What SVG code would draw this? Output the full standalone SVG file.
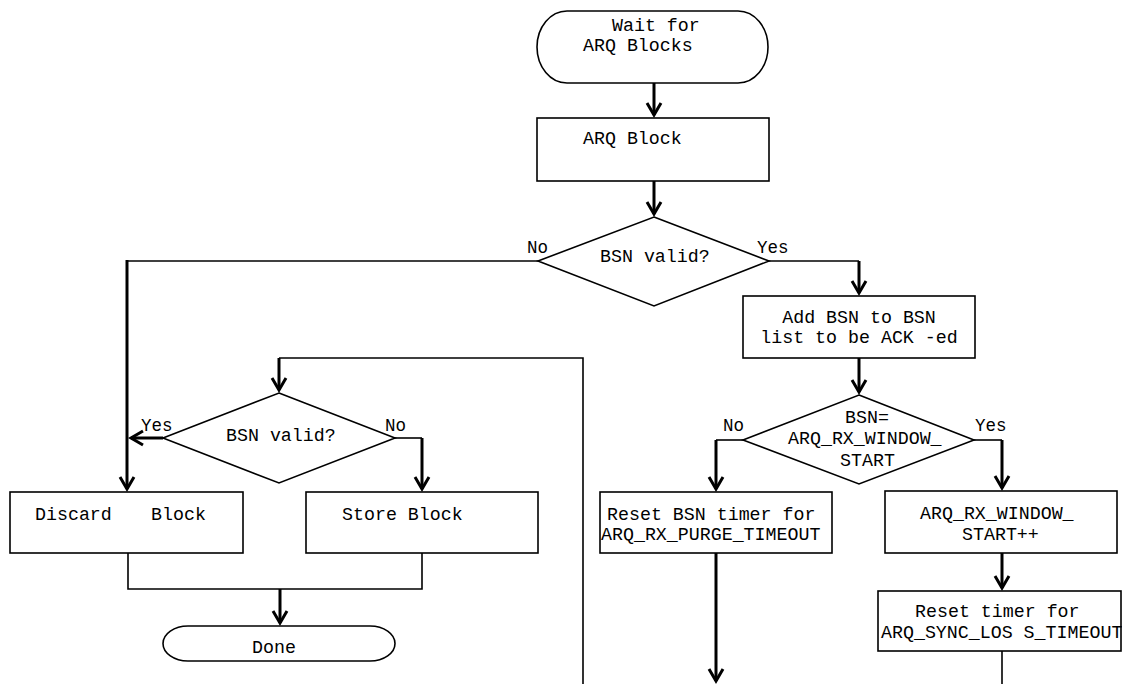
<svg xmlns="http://www.w3.org/2000/svg" width="1122" height="684" viewBox="0 0 1122 684">
  <style>
    .shape { fill: #ffffff; stroke: #000000; stroke-width: 1.6; }
    .thin { fill: none; stroke: #000000; stroke-width: 1.6; }
    .thick { fill: none; stroke: #000000; stroke-width: 3; }
    .arrow { fill: none; stroke: #000000; stroke-width: 3; marker-end: url(#chev); }
    text { font-family: "Liberation Mono", "Courier New", monospace; font-size: 18.3px; fill: #000000; }
    .lbl { font-size: 17.5px; }
  </style>
  <defs>
    <marker id="chev" markerUnits="userSpaceOnUse" markerWidth="30" markerHeight="30" viewBox="-15 -15 30 30" refX="0" refY="0" orient="auto" overflow="visible">
      <path d="M-12,-7 L0,0 L-12,7" fill="none" stroke="#000000" stroke-width="3" stroke-linejoin="miter"/>
    </marker>
  </defs>
  <rect width="1122" height="684" fill="#ffffff"/>

  <g id="connectors">
    <path class="arrow" d="M654,83 V115"/>
    <path class="arrow" d="M654,181 V214"/>
    <path class="thin" d="M538,261 H127"/>
    <path class="arrow" d="M127,260 V489"/>
    <path class="thin" d="M769,261 H859"/>
    <path class="arrow" d="M859,261 V293"/>
    <path class="arrow" d="M859,358 V392"/>
    <path class="thin" d="M743,440 H716"/>
    <path class="arrow" d="M716,440 V489"/>
    <path class="thin" d="M974,440 H1002"/>
    <path class="arrow" d="M1002,440 V488"/>
    <path class="arrow" d="M1002,553 V588"/>
    <path class="thin" d="M1002,651 V684"/>
    <path class="arrow" d="M716,553 V681"/>
    <path class="thin" d="M583,684 V358 H279"/>
    <path class="arrow" d="M279,358 V390"/>
    <path class="arrow" d="M163,438 H131"/>
    <path class="thin" d="M395,438 H422"/>
    <path class="arrow" d="M422,438 V489"/>
    <path class="thin" d="M128,553 V589 H422 V553"/>
    <path class="arrow" d="M280,589 V623"/>
  </g>

  <g id="start">
    <path class="shape" d="M567,11 H738 A30,36 0 0 1 738,83 H567 A30,36 0 0 1 567,11 Z"/>
    <text x="612" y="31">Wait for</text>
    <text x="583" y="51">ARQ Blocks</text>
  </g>

  <g id="arq-block">
    <rect class="shape" x="537" y="118" width="232" height="63"/>
    <text x="583" y="144">ARQ Block</text>
  </g>

  <g id="bsn-valid-1">
    <polygon class="shape" points="654,217 769,261 654,306 538,261"/>
    <text x="600" y="262">BSN valid?</text>
    <text class="lbl" x="527" y="253">No</text>
    <text class="lbl" x="757" y="253">Yes</text>
  </g>

  <g id="add-bsn">
    <rect class="shape" x="743" y="296" width="232" height="62"/>
    <text x="859" y="323" text-anchor="middle">Add BSN to BSN</text>
    <text x="859" y="343" text-anchor="middle">list to be ACK -ed</text>
  </g>

  <g id="bsn-eq">
    <polygon class="shape" points="859,395 974,440 859,484 743,440"/>
    <text x="845" y="423">BSN=</text>
    <text x="788" y="444">ARQ_RX_WINDOW_</text>
    <text x="840" y="466">START</text>
    <text class="lbl" x="723" y="431">No</text>
    <text class="lbl" x="975" y="431">Yes</text>
  </g>

  <g id="reset-bsn-timer">
    <rect class="shape" x="600" y="492" width="232" height="61"/>
    <text x="607" y="520">Reset BSN timer for</text>
    <text x="601" y="540">ARQ_RX_PURGE_TIMEOUT</text>
  </g>

  <g id="window-start-inc">
    <rect class="shape" x="885" y="491" width="232" height="62"/>
    <text x="920" y="519">ARQ_RX_WINDOW_</text>
    <text x="962" y="540">START++</text>
  </g>

  <g id="reset-timer">
    <rect class="shape" x="878" y="591" width="243" height="60"/>
    <text x="915" y="617">Reset timer for</text>
    <text x="881" y="638">ARQ_SYNC_LOS S_TIMEOUT</text>
  </g>

  <g id="bsn-valid-2">
    <polygon class="shape" points="279,393 395,438 279,483 163,438"/>
    <text x="226" y="441">BSN valid?</text>
    <text class="lbl" x="141" y="431">Yes</text>
    <text class="lbl" x="385" y="431">No</text>
  </g>

  <g id="discard-block">
    <rect class="shape" x="10" y="492" width="233" height="61"/>
    <text x="35" y="520">Discard<tspan x="151">Block</tspan></text>
  </g>

  <g id="store-block">
    <rect class="shape" x="306" y="492" width="232" height="61"/>
    <text x="342" y="520">Store Block</text>
  </g>

  <g id="done">
    <path class="shape" d="M188,626 H370 A25,17.5 0 0 1 370,661 H188 A25,17.5 0 0 1 188,626 Z"/>
    <text x="252" y="653">Done</text>
  </g>
</svg>
